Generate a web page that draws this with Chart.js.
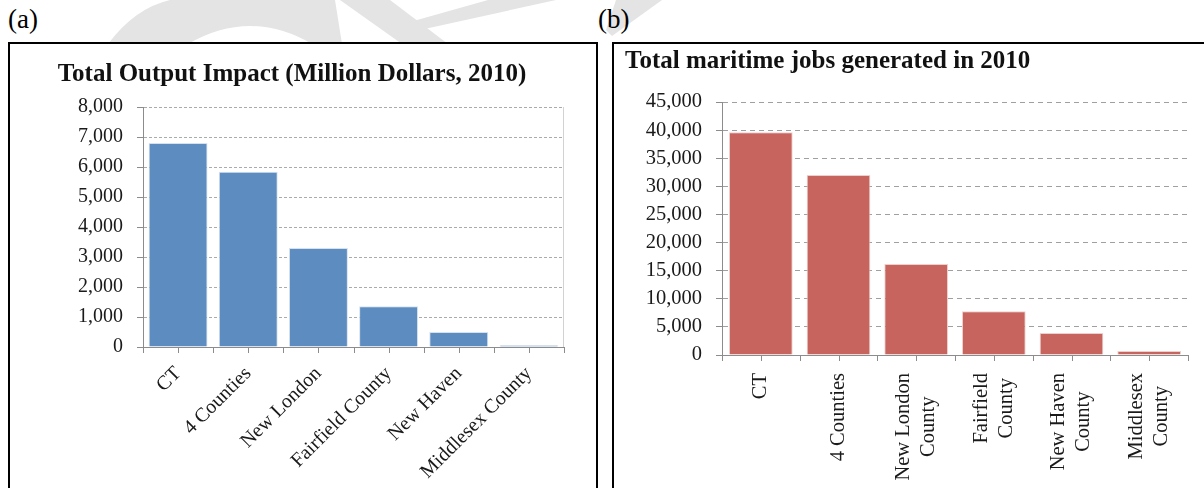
<!DOCTYPE html>
<html>
<head>
<meta charset="utf-8">
<script src="https://cdn.jsdelivr.net/npm/chart.js@4.4.1/dist/chart.umd.min.js"></script>
<style>
  body { margin: 0; background: #fff; width: 1204px; height: 488px; overflow: hidden; position: relative; font-family: "Liberation Serif", serif; }
  .mark { position: absolute; left: 0; top: 0; }
  .tag { position: absolute; top: 4px; font-size: 27px; color: #000; }
  .box { position: absolute; top: 42px; height: 460px; border: 2px solid #000; box-sizing: border-box; background: #fff; }
  .wrap { position: absolute; top: 44px; height: 444px; }
</style>
</head>
<body>
<!-- faint background stamp behind the panels -->
<svg class="mark" width="1204" height="60">
  <g fill="#e4e4e4">
    <path d="M108 44 Q135 8 170 0 L335 0 L342 44 L312 44 Q250 8 188 44 Z"/>
    <path d="M340 0 L390 0 L448 44 L402 44 Z"/>
    <path d="M488 0 L556 0 L420 30 L410 22 Z"/>
    <path d="M616 0 L662 0 L612 36 L606 30 Z"/>
  </g>
</svg>
<div class="tag" style="left:8px">(a)</div>
<div class="tag" style="left:598px">(b)</div>
<div class="box" style="left:8px; width:590px"></div>
<div class="box" style="left:612px; width:600px"></div>
<div class="wrap" style="left:10px; width:585px"><canvas id="outputChart"></canvas></div>
<div class="wrap" style="left:614px; width:590px"><canvas id="jobsChart"></canvas></div>
<script>
  // Output impact, million dollars (2010)
  const outputLabels = ["CT", "4 Counties", "New London", "Fairfield County", "New Haven", "Middlesex County"];
  const outputValues = [6800, 5840, 3300, 1360, 500, 60];

  // Maritime jobs generated (2010)
  const jobsLabels = [["CT"], ["4 Counties"], ["New London", "County"], ["Fairfield", "County"], ["New Haven", "County"], ["Middlesex", "County"]];
  const jobsValues = [39600, 32000, 16200, 7800, 3900, 700];

  const serif = "'Liberation Serif', 'Times New Roman', serif";
  Chart.defaults.font.family = serif;
  Chart.defaults.color = "#1a1a1a";
  Chart.defaults.animation = false;

  // small ticks under the x axis at every category boundary and centre,
  // plus an optional light frame line on the right of the plot
  function halfTicks(rightEdge) {
    return {
      id: "halfTicks",
      afterDraw(chart) {
        const x = chart.scales.x;
        const ctx = chart.ctx;
        const area = chart.chartArea;
        const step = (x.right - x.left) / chart.data.labels.length;
        ctx.save();
        ctx.lineWidth = 1;
        if (rightEdge) {
          ctx.strokeStyle = "#d2d2d2";
          ctx.beginPath();
          ctx.moveTo(Math.round(area.right) - 0.5, area.top);
          ctx.lineTo(Math.round(area.right) - 0.5, area.bottom);
          ctx.stroke();
        }
        ctx.strokeStyle = "#8c8c8c";
        ctx.beginPath();
        for (let i = 0; i <= chart.data.labels.length * 2; i++) {
          const px = Math.round(x.left + (step / 2) * i) + 0.5;
          ctx.moveTo(px, area.bottom);
          ctx.lineTo(px, area.bottom + 6);
        }
        ctx.stroke();
        ctx.restore();
      },
    };
  }

  // vertical category names: each block starts just under the axis,
  // with its lines centred on one another
  const stackedLabels = {
    id: "stackedLabels",
    afterDraw(chart) {
      const x = chart.scales.x;
      const ctx = chart.ctx;
      const top = chart.chartArea.bottom + 18;
      const lineHeight = 25;
      ctx.save();
      ctx.font = "20.5px " + serif;
      ctx.fillStyle = "#1a1a1a";
      ctx.textAlign = "center";
      ctx.textBaseline = "middle";
      chart.data.labels.forEach((lines, i) => {
        const cx = x.getPixelForValue(i);
        const w = Math.max(...lines.map((l) => ctx.measureText(l).width));
        ctx.save();
        ctx.translate(cx, top + w / 2);
        ctx.rotate(-Math.PI / 2);
        lines.forEach((l, j) => ctx.fillText(l, 0, (j - (lines.length - 1) / 2) * lineHeight));
        ctx.restore();
      });
      ctx.restore();
    },
  };

  function yAxis(max, step, width, fontSize, dash, gridColor) {
    return {
      min: 0,
      max: max,
      afterFit: (s) => { s.width = width; },
      ticks: {
        stepSize: step,
        padding: 14,
        font: { size: fontSize },
        callback: (v) => v.toLocaleString("en-US"),
      },
      grid: {
        color: gridColor,
        tickLength: 6,
        tickColor: "#8c8c8c",
        tickBorderDash: [],
      },
      border: { color: "#8c8c8c", dash: dash },
    };
  }

  new Chart(document.getElementById("outputChart"), {
    type: "bar",
    data: {
      labels: outputLabels,
      datasets: [{
        data: outputValues,
        backgroundColor: "#5d8cc0",
        borderColor: "#d6e1ee",
        borderWidth: 1,
        categoryPercentage: 0.84,
        barPercentage: 1,
      }],
    },
    options: {
      responsive: true,
      maintainAspectRatio: false,
      layout: { padding: { left: 10, right: 31, top: 0, bottom: 0 } },
      plugins: {
        legend: { display: false },
        tooltip: { enabled: false },
        title: {
          display: true,
          text: "Total Output Impact (Million Dollars, 2010)",
          color: "#111",
          font: { size: 25, weight: "bold", lineHeight: 1.2 },
          padding: { top: 16, bottom: 17 },
        },
      },
      scales: {
        x: {
          afterFit: (s) => { s.height = 141; },
          ticks: { minRotation: 45, maxRotation: 45, padding: 15, font: { size: 20 } },
          grid: { display: false, drawTicks: false },
          border: { color: "#8c8c8c" },
        },
        y: yAxis(8000, 1000, 123, 20, [3, 2], "#ababab"),
      },
    },
    plugins: [halfTicks(true)],
  });

  new Chart(document.getElementById("jobsChart"), {
    type: "bar",
    data: {
      labels: jobsLabels,
      datasets: [{
        data: jobsValues,
        backgroundColor: "#c8645e",
        borderColor: "#ecd0ce",
        borderWidth: 1,
        categoryPercentage: 0.82,
        barPercentage: 1,
      }],
    },
    options: {
      responsive: true,
      maintainAspectRatio: false,
      layout: { padding: { left: 11, right: 16, top: 0, bottom: 0 } },
      plugins: {
        legend: { display: false },
        tooltip: { enabled: false },
        title: {
          display: true,
          align: "start",
          text: "Total maritime jobs generated in 2010",
          color: "#111",
          font: { size: 25, weight: "bold", lineHeight: 1.2 },
          padding: { top: 3, bottom: 25 },
        },
      },
      scales: {
        x: {
          afterFit: (s) => { s.height = 133; },
          ticks: { display: false },
          grid: { display: false, drawTicks: false },
          border: { color: "#8c8c8c" },
        },
        y: yAxis(45000, 5000, 97, 20.5, [5, 4], "#a0a0a0"),
      },
    },
    plugins: [halfTicks(false), stackedLabels],
  });
</script>
</body>
</html>
